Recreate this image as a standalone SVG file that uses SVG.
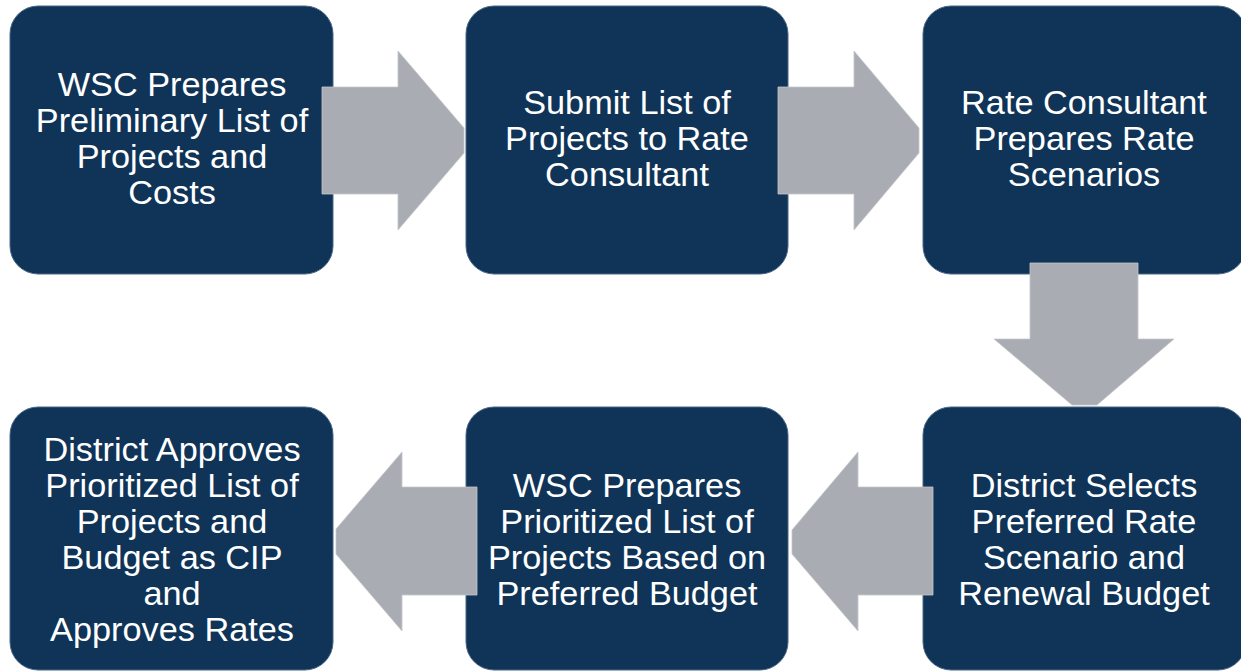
<svg xmlns="http://www.w3.org/2000/svg" width="1241" height="672" viewBox="0 0 1241 672">
  <style>
    .box { fill: #0F3457; stroke: #4A6685; stroke-width: 1; }
    .arrow { fill: #A9ACB3; stroke: #C4C6CB; stroke-width: 0.8; }
    .label { font-family: "Liberation Sans", Arial, sans-serif; font-size: 32.5px; fill: #FFFFFF; text-anchor: middle; }
  </style>
  <rect width="1241" height="672" fill="#FFFFFF"/>

  <g id="node-prepare-list">
    <rect class="box" x="10" y="6" width="323" height="268" rx="28"/>
    <g transform="translate(172 0) scale(1.055 1)">
      <text class="label"><tspan x="0" y="96">WSC Prepares</tspan><tspan x="0" y="132">Preliminary List of</tspan><tspan x="0" y="168">Projects and</tspan><tspan x="0" y="204">Costs</tspan></text>
    </g>
  </g>

  <g id="node-submit-list">
    <rect class="box" x="466" y="6" width="322" height="268" rx="28"/>
    <g transform="translate(627 0) scale(1.055 1)">
      <text class="label"><tspan x="0" y="114">Submit List of</tspan><tspan x="0" y="150">Projects to Rate</tspan><tspan x="0" y="186">Consultant</tspan></text>
    </g>
  </g>

  <g id="node-rate-scenarios">
    <rect class="box" x="923" y="6" width="323" height="268" rx="28"/>
    <g transform="translate(1084 0) scale(1.055 1)">
      <text class="label"><tspan x="0" y="114">Rate Consultant</tspan><tspan x="0" y="150">Prepares Rate</tspan><tspan x="0" y="186">Scenarios</tspan></text>
    </g>
  </g>

  <g id="node-select-scenario">
    <rect class="box" x="923" y="407" width="323" height="263" rx="28"/>
    <g transform="translate(1084 0) scale(1.055 1)">
      <text class="label"><tspan x="0" y="497">District Selects</tspan><tspan x="0" y="533">Preferred Rate</tspan><tspan x="0" y="569">Scenario and</tspan><tspan x="0" y="605">Renewal Budget</tspan></text>
    </g>
  </g>

  <g id="node-prioritized-list">
    <rect class="box" x="466" y="407" width="322" height="263" rx="28"/>
    <g transform="translate(627 0) scale(1.055 1)">
      <text class="label"><tspan x="0" y="497">WSC Prepares</tspan><tspan x="0" y="533">Prioritized List of</tspan><tspan x="0" y="569">Projects Based on</tspan><tspan x="0" y="605">Preferred Budget</tspan></text>
    </g>
  </g>

  <g id="node-approve-cip">
    <rect class="box" x="10" y="407" width="323" height="263" rx="28"/>
    <g transform="translate(172 0) scale(1.055 1)">
      <text class="label"><tspan x="0" y="461">District Approves</tspan><tspan x="0" y="497">Prioritized List of</tspan><tspan x="0" y="533">Projects and</tspan><tspan x="0" y="569">Budget as CIP</tspan><tspan x="0" y="605">and</tspan><tspan x="0" y="641">Approves Rates</tspan></text>
    </g>
  </g>

  <!-- block arrows between the steps -->
  <g id="connectors">
    <polygon class="arrow" points="322,87 398,87 398,51 464,128 464,153 398,230 398,194 322,194"/>
    <polygon class="arrow" points="778,87 854,87 854,51 919,128 919,153 854,230 854,194 778,194"/>
    <polygon class="arrow" points="1030,263 1138,263 1138,339 1174,339 1097,405 1072,405 994,339 1030,339"/>
    <polygon class="arrow" points="933,487 858,487 858,452 792,530 792,554 858,631 858,595 933,595"/>
    <polygon class="arrow" points="477,487 402,487 402,452 336,529 336,554 402,631 402,595 477,595"/>
  </g>
</svg>
